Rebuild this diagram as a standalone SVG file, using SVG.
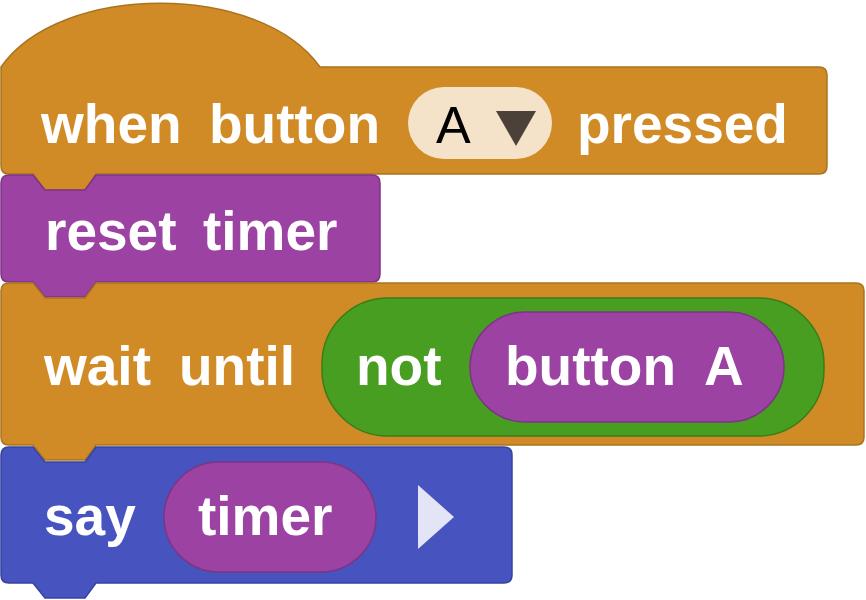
<svg xmlns="http://www.w3.org/2000/svg" width="866" height="600" viewBox="0 0 866 600">
  <style>
    .lbl { font-family: "Liberation Sans", Arial, sans-serif; font-weight: bold; font-size: 55px; fill: #ffffff; }
    .field { font-family: "Liberation Sans", Arial, sans-serif; font-size: 52px; fill: #000000; }
    .events { fill: #d18b26; stroke: #a9741f; stroke-width: 1.5; }
    .sensing { fill: #9c42a3; stroke: #7e3486; stroke-width: 1.5; }
    .logic { fill: #489e20; stroke: #3a7d19; stroke-width: 1.5; }
    .looks { fill: #4753bf; stroke: #3741a0; stroke-width: 1.5; }
  </style>

  <!-- hat block: when button A pressed -->
  <g id="hat-when-button">
    <path class="events" d="M 1,67 C 60,-18 260,-18 320,67 L 819,67 Q 827,67 827,75 L 827,166 Q 827,174 819,174 L 96,174 L 85,190 L 45,190 L 33,174 L 9,174 Q 1,174 1,166 Z"/>
    <text class="lbl" x="41" y="143">when</text>
    <text class="lbl" x="209" y="143">button</text>
    <rect x="408" y="87" width="144" height="72" rx="36" ry="36" fill="#f5e3c9"/>
    <text class="field" x="436" y="143">A</text>
    <path d="M 496,111 L 536,111 L 516,146 Z" fill="#4b4139"/>
    <text class="lbl" x="577" y="143">pressed</text>
  </g>

  <!-- stack block: reset timer -->
  <g id="reset-timer">
    <path class="sensing" d="M 1,183 Q 1,175 9,175 L 33,175 L 45,190 L 85,190 L 96,175 L 372,175 Q 380,175 380,183 L 380,274 Q 380,282 372,282 L 96,282 L 85,297 L 45,297 L 33,282 L 9,282 Q 1,282 1,274 Z"/>
    <text class="lbl" x="45" y="250">reset</text>
    <text class="lbl" x="203" y="250">timer</text>
  </g>

  <!-- stack block: wait until <not <button A>> -->
  <g id="wait-until">
    <path class="events" d="M 1,291 Q 1,283 9,283 L 33,283 L 45,298 L 85,298 L 96,283 L 856,283 Q 864,283 864,291 L 864,437 Q 864,445 856,445 L 96,445 L 85,460 L 45,460 L 33,445 L 9,445 Q 1,445 1,437 Z"/>
    <text class="lbl" x="44" y="385">wait</text>
    <text class="lbl" x="179" y="385">until</text>
    <g id="not-block">
      <rect class="logic" x="322" y="298" width="502" height="138" rx="66" ry="66"/>
      <text class="lbl" x="356" y="385">not</text>
      <g id="button-a-reporter">
        <rect class="sensing" x="470" y="312" width="314" height="110" rx="55" ry="55"/>
        <text class="lbl" x="505" y="385">button</text>
        <text class="lbl" x="704" y="385">A</text>
      </g>
    </g>
  </g>

  <!-- stack block: say (timer) -->
  <g id="say-timer">
    <path class="looks" d="M 1,455 Q 1,447 9,447 L 33,447 L 45,462 L 85,462 L 96,447 L 504,447 Q 512,447 512,455 L 512,575 Q 512,583 504,583 L 96,583 L 85,598 L 45,598 L 33,583 L 9,583 Q 1,583 1,575 Z"/>
    <text class="lbl" x="44" y="535">say</text>
    <g id="timer-reporter">
      <rect class="sensing" x="164" y="462" width="212" height="110" rx="55" ry="55"/>
      <text class="lbl" x="198" y="535">timer</text>
    </g>
    <path d="M 418,485 L 454,517 L 418,549 Z" fill="#e3e4f5"/>
  </g>
</svg>
